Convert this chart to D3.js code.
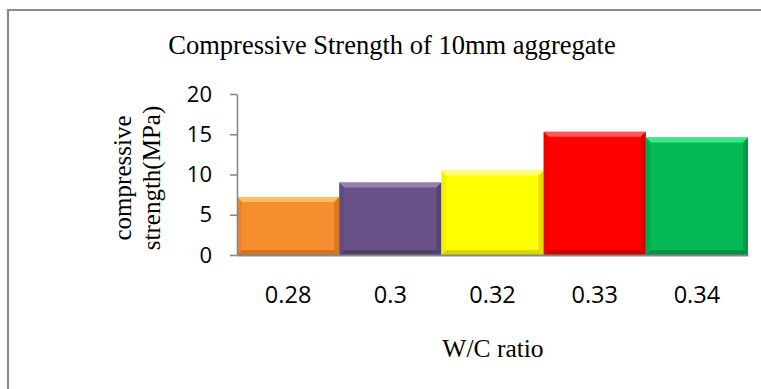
<!DOCTYPE html>
<html>
<head>
<meta charset="utf-8">
<script src="https://cdn.jsdelivr.net/npm/d3@7"></script>
<style>
  html, body { margin: 0; padding: 0; background: #fff; }
  svg { display: block; }
</style>
</head>
<body>
<svg id="chart" width="761" height="389"></svg>
<script>
// W/C ratio categories and measured compressive strength (MPa)
const categories = ["0.28", "0.3", "0.32", "0.33", "0.34"];
const strength = [7.2, 9, 10.5, 15.3, 14.6];
const yTicks = [0, 5, 10, 15, 20];
const barColors = ["#F68E2E", "#6A5289", "#FFFF00", "#FF0000", "#05B954"];
const barLight = ["#FBC766", "#9C89B6", "#FFFF8C", "#FF6A6A", "#45F08E"];
const barDark = ["#C8691E", "#4A3963", "#C9C900", "#C20000", "#03853A"];

const svg = d3.select("#chart");
const W = 761, H = 389;
const plot = { left: 237, right: 748, top: 94, bottom: 255 };

const serif = "'Liberation Serif', 'Times New Roman', serif";
const sans = "'Open Sans', Calibri, sans-serif";
const grey = "#878787";

// outer frame (left and top edges)
svg.append("path")
  .attr("d", `M8,${H} V10 H${W}`)
  .attr("fill", "none")
  .attr("stroke", "#8c8c8c")
  .attr("stroke-width", 2.2);

const x = d3.scaleBand().domain(categories).range([plot.left, plot.right]).padding(0);
const y = d3.scaleLinear().domain([0, 20]).range([plot.bottom, plot.top]);

// bars with bevelled edges
const bev = 5;
const bars = svg.append("g").selectAll("g").data(categories).join("g");
bars.each(function (c, i) {
  const g = d3.select(this);
  const x0 = x(c), x1 = x(c) + x.bandwidth();
  const y0 = y(strength[i]), y1 = y(0);
  g.append("rect")
    .attr("x", x0).attr("y", y0)
    .attr("width", x1 - x0).attr("height", y1 - y0)
    .attr("fill", barColors[i]);
  // top bevel
  g.append("path")
    .attr("d", `M${x0},${y0} H${x1} L${x1 - bev},${y0 + bev} H${x0 + bev} Z`)
    .attr("fill", barLight[i]).attr("opacity", 0.85);
  // left bevel
  g.append("path")
    .attr("d", `M${x0},${y0} L${x0 + bev},${y0 + bev} V${y1 - bev} L${x0},${y1} Z`)
    .attr("fill", barDark[i]).attr("opacity", 0.25);
  // right bevel
  g.append("path")
    .attr("d", `M${x1},${y0} L${x1 - bev},${y0 + bev} V${y1 - bev} L${x1},${y1} Z`)
    .attr("fill", barDark[i]).attr("opacity", 0.6);
  // bottom bevel
  g.append("path")
    .attr("d", `M${x0},${y1} L${x0 + bev},${y1 - bev} H${x1 - bev} L${x1},${y1} Z`)
    .attr("fill", barDark[i]).attr("opacity", 0.75);
});

// y axis
const yAxis = svg.append("g")
  .attr("transform", `translate(${plot.left},0)`)
  .call(d3.axisLeft(y).tickValues(yTicks).tickSize(7).tickSizeOuter(0).tickPadding(18));
yAxis.select(".domain").attr("stroke", grey).attr("stroke-width", 1.6);
yAxis.selectAll(".tick line").attr("stroke", grey).attr("stroke-width", 1.6);
yAxis.selectAll(".tick text")
  .attr("font-family", sans).attr("font-size", 22).attr("fill", "#000");

// x axis
const xAxis = svg.append("g")
  .attr("transform", `translate(0,${plot.bottom})`)
  .call(d3.axisBottom(x).tickSize(0).tickSizeOuter(0).tickPadding(31));
xAxis.select(".domain").attr("stroke", grey).attr("stroke-width", 2);
xAxis.selectAll(".tick text")
  .attr("font-family", sans).attr("font-size", 23.5).attr("fill", "#000");

// titles
svg.append("text")
  .attr("x", 392).attr("y", 54)
  .attr("text-anchor", "middle")
  .attr("font-family", serif).attr("font-size", 26.5)
  .text("Compressive Strength of 10mm aggregate");

svg.append("text")
  .attr("x", 493).attr("y", 357)
  .attr("text-anchor", "middle")
  .attr("font-family", serif).attr("font-size", 25.5)
  .text("W/C ratio");

const yTitle = svg.append("text")
  .attr("transform", "translate(131,178) rotate(-90)")
  .attr("text-anchor", "middle")
  .attr("font-family", serif).attr("font-size", 25);
yTitle.append("tspan").attr("x", 0).attr("y", 0).text("compressive");
yTitle.append("tspan").attr("x", 0).attr("y", 29).text("strength(MPa)");
</script>
</body>
</html>
